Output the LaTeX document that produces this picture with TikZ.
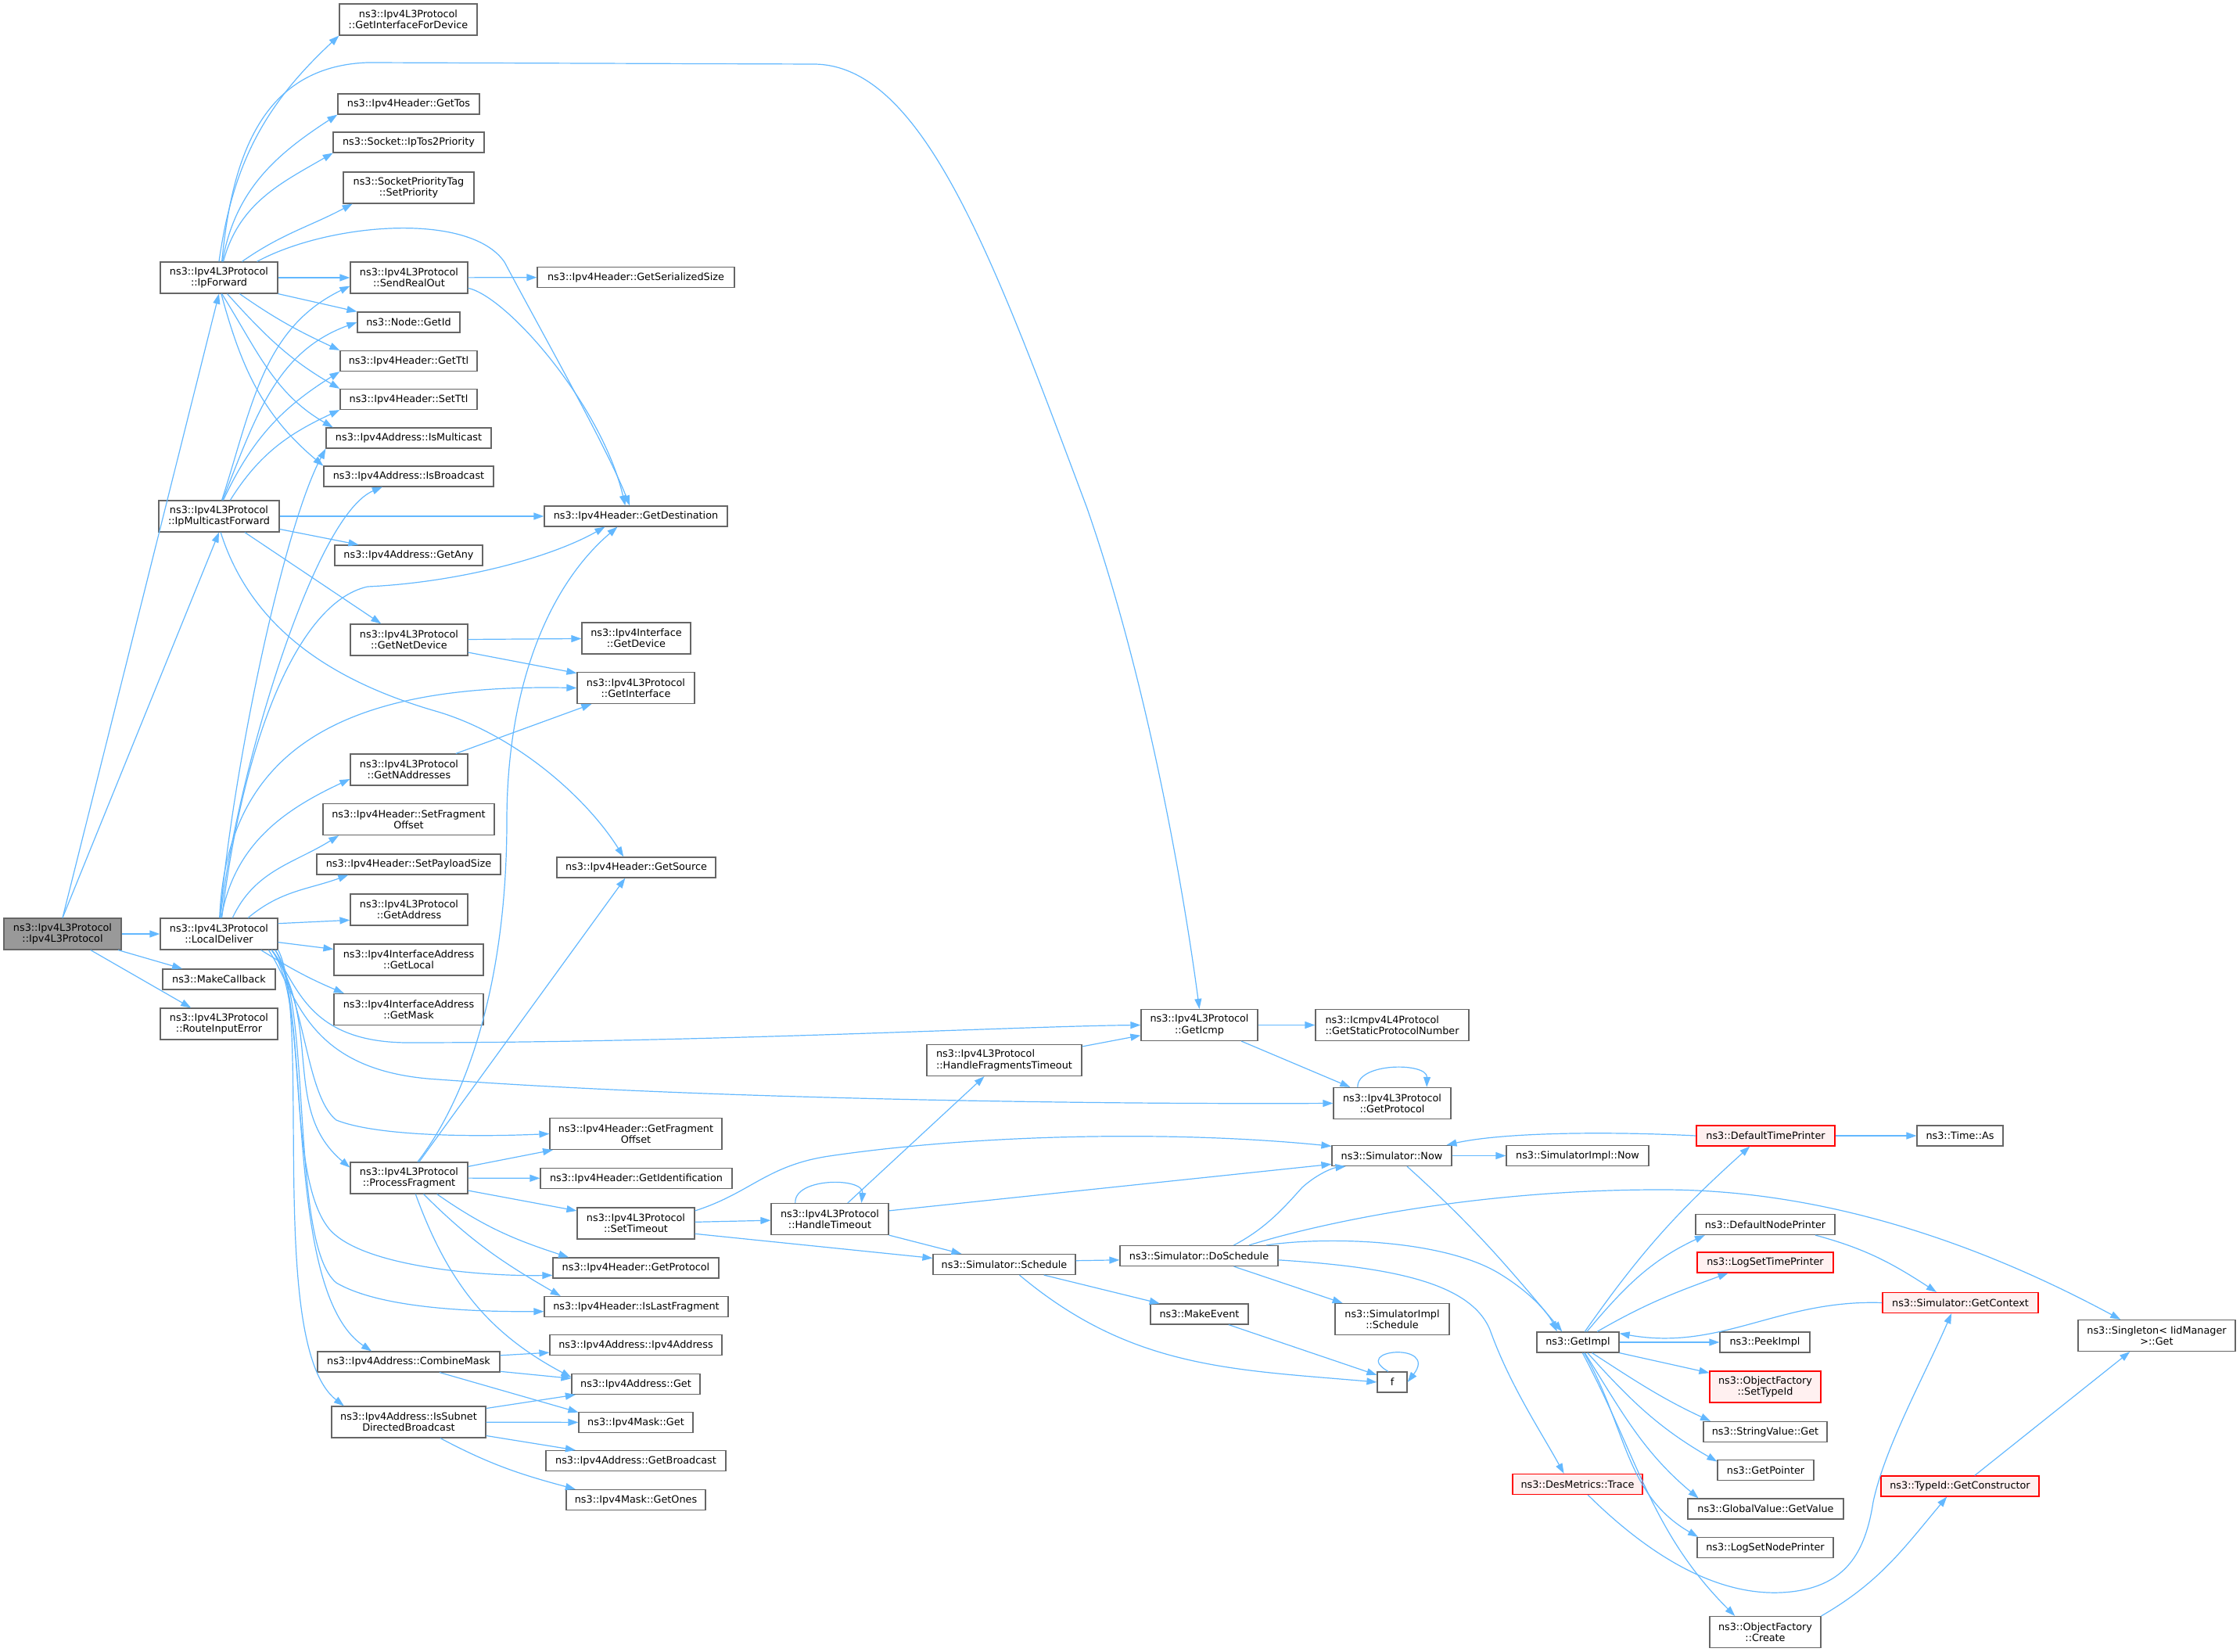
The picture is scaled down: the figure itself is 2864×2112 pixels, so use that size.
\documentclass[tikz,border=0pt]{standalone}
\usepackage{fontspec}
\setmainfont{DejaVu Sans}
\usetikzlibrary{arrows.meta}
\definecolor{edgeblue}{HTML}{63B8FF}
\definecolor{boxgrey}{HTML}{666666}
\definecolor{rootgrey}{HTML}{999999}
\definecolor{redfill}{HTML}{FFF0F0}
\tikzset{fn/.style = {draw = boxgrey, fill = white, line width = 0.6pt, inner sep = 0pt, minimum height = 13pt, align = center, font = \fontsize{6.4}{7.1}\selectfont}}
\tikzset{fnii/.style = {fn, minimum height = 20pt}}
\tikzset{fnred/.style = {draw = red, fill = redfill}}
\tikzset{call/.style = {draw = edgeblue, line width = 0.6pt, -{Triangle[length = 6.5pt, width = 4.5pt]}}}

\begin{document}
\begin{tikzpicture}[x = 0.5pt, y = -0.5pt]
\useasboundingbox (0,0) rectangle (2864,2112);

\node [fnii, fill = rootgrey, minimum width = 75pt] (root) at (80,1194) {ns3::Ipv4L3Protocol\\::Ipv4L3Protocol};
\node [fnii, minimum width = 75pt] (ipFwd) at (280,355) {ns3::Ipv4L3Protocol\\::IpForward};
\node [fnii, minimum width = 77pt] (ipMcast) at (280,660) {ns3::Ipv4L3Protocol\\::IpMulticastForward};
\node [fnii, minimum width = 75pt] (localDel) at (280,1194) {ns3::Ipv4L3Protocol\\::LocalDeliver};
\node [fn, minimum width = 72pt] (mkCb) at (280,1252) {ns3::MakeCallback};
\node [fnii, minimum width = 75pt] (routeErr) at (280,1309) {ns3::Ipv4L3Protocol\\::RouteInputError};

\node [fnii, minimum width = 88pt] (getIfDev) at (522,25) {ns3::Ipv4L3Protocol\\::GetInterfaceForDevice};
\node [fn, minimum width = 90.5pt] (getTos) at (522.5,133) {ns3::Ipv4Header::GetTos};
\node [fn, minimum width = 96.5pt] (tos2Prio) at (522.5,182) {ns3::Socket::IpTos2Priority};
\node [fnii, minimum width = 83.5pt] (setPrio) at (522.5,240) {ns3::SocketPriorityTag\\::SetPriority};
\node [fnii, minimum width = 75pt] (sendOut) at (523,355) {ns3::Ipv4L3Protocol\\::SendRealOut};
\node [fn, minimum width = 65.5pt] (getId) at (522.5,412) {ns3::Node::GetId};
\node [fn, minimum width = 87.5pt] (getTtl) at (522.5,461.5) {ns3::Ipv4Header::GetTtl};
\node [fn, minimum width = 87.5pt] (setTtl) at (522.5,510.5) {ns3::Ipv4Header::SetTtl};
\node [fn, minimum width = 105.5pt] (isMcast) at (522.5,560) {ns3::Ipv4Address::IsMulticast};
\node [fn, minimum width = 108.5pt] (isBcast) at (522.5,609) {ns3::Ipv4Address::IsBroadcast};
\node [fn, minimum width = 94.5pt] (getAny) at (522.5,710) {ns3::Ipv4Address::GetAny};
\node [fnii, minimum width = 75pt] (getNetDev) at (523,818) {ns3::Ipv4L3Protocol\\::GetNetDevice};
\node [fnii, minimum width = 75pt] (getNAddr) at (523,984) {ns3::Ipv4L3Protocol\\::GetNAddresses};
\node [fnii, minimum width = 109.5pt] (setFragOff) at (522.5,1047.5) {ns3::Ipv4Header::SetFragment\\Offset};
\node [fn, minimum width = 117.5pt] (setPay) at (522.5,1105) {ns3::Ipv4Header::SetPayloadSize};
\node [fnii, minimum width = 75pt] (getAddr) at (523,1163) {ns3::Ipv4L3Protocol\\::GetAddress};
\node [fnii, minimum width = 95.5pt] (getLocal) at (522.5,1227) {ns3::Ipv4InterfaceAddress\\::GetLocal};
\node [fnii, minimum width = 95.5pt] (getMask) at (522.5,1290.5) {ns3::Ipv4InterfaceAddress\\::GetMask};
\node [fnii, minimum width = 75pt] (procFrag) at (523,1506) {ns3::Ipv4L3Protocol\\::ProcessFragment};
\node [fn, minimum width = 116.5pt] (combMask) at (522.5,1741) {ns3::Ipv4Address::CombineMask};
\node [fnii, minimum width = 98.5pt] (isSubnet) at (522.5,1818) {ns3::Ipv4Address::IsSubnet\\DirectedBroadcast};

\node [fn, minimum width = 126pt] (serSize) at (813,354.5) {ns3::Ipv4Header::GetSerializedSize};
\node [fn, minimum width = 117pt] (getDest) at (813,660) {ns3::Ipv4Header::GetDestination};
\node [fnii, minimum width = 69.5pt] (getDev) at (813.5,816) {ns3::Ipv4Interface\\::GetDevice};
\node [fnii, minimum width = 75pt] (getIf) at (813,879.5) {ns3::Ipv4L3Protocol\\::GetInterface};
\node [fn, minimum width = 101.5pt] (getSrc) at (813.5,1109) {ns3::Ipv4Header::GetSource};
\node [fnii, minimum width = 110pt] (getFragOff) at (813,1449.5) {ns3::Ipv4Header::GetFragment\\Offset};
\node [fn, minimum width = 122.5pt] (getIdent) at (813.5,1506.5) {ns3::Ipv4Header::GetIdentification};
\node [fnii, minimum width = 75pt] (setTo) at (813,1564) {ns3::Ipv4L3Protocol\\::SetTimeout};
\node [fn, minimum width = 106pt] (getProtoH) at (813,1621) {ns3::Ipv4Header::GetProtocol};
\node [fn, minimum width = 117.5pt] (isLast) at (813.5,1670.5) {ns3::Ipv4Header::IsLastFragment};
\node [fn, minimum width = 110pt] (addrCtor) at (813,1719.5) {ns3::Ipv4Address::Ipv4Address};
\node [fn, minimum width = 82pt] (addrGet) at (813,1769.5) {ns3::Ipv4Address::Get};
\node [fn, minimum width = 73pt] (maskGet) at (813,1818.5) {ns3::Ipv4Mask::Get};
\node [fn, minimum width = 115pt] (getBcast) at (813,1867.5) {ns3::Ipv4Address::GetBroadcast};
\node [fn, minimum width = 89pt] (getOnes) at (813,1917.5) {ns3::Ipv4Mask::GetOnes};

\node [fnii, minimum width = 75pt] (handleTo) at (1061,1558.5) {ns3::Ipv4L3Protocol\\::HandleTimeout};
\node [fnii, align = left, minimum width = 99pt] (handleFragTo) at (1284,1355.5) {ns3::Ipv4L3Protocol\\::HandleFragmentsTimeout};
\node [fn, minimum width = 91pt] (simSched) at (1284,1616.5) {ns3::Simulator::Schedule};
\node [fnii, minimum width = 74.5pt] (getIcmp) at (1533.5,1310.5) {ns3::Ipv4L3Protocol\\::GetIcmp};
\node [fn, minimum width = 101pt] (doSched) at (1533,1605.5) {ns3::Simulator::DoSchedule};
\node [fn, minimum width = 62.5pt] (mkEvent) at (1533.5,1680) {ns3::MakeEvent};

\node [fnii, align = left, minimum width = 98pt] (staticProto) at (1780,1310.5) {ns3::Icmpv4L4Protocol\\::GetStaticProtocolNumber};
\node [fnii, minimum width = 75pt] (getProto) at (1780,1410.5) {ns3::Ipv4L3Protocol\\::GetProtocol};
\node [fn, minimum width = 76.5pt] (simNow) at (1779.5,1477.5) {ns3::Simulator::Now};
\node [fnii, minimum width = 73pt] (implSched) at (1780,1686.5) {ns3::SimulatorImpl\\::Schedule};
\node [fn, minimum width = 19pt] (fFn) at (1780,1767) {f};

\node [fn, minimum width = 91pt] (implNow) at (2017,1477.5) {ns3::SimulatorImpl::Now};
\node [fn, minimum width = 52.5pt] (getImpl) at (2017.5,1716) {ns3::GetImpl};
\node [fn, fnred, minimum width = 83pt] (desTrace) at (2017,1897.5) {ns3::DesMetrics::Trace};

\node [fn, fnred, minimum width = 88.5pt] (defTime) at (2257.5,1452) {ns3::DefaultTimePrinter};
\node [fn, minimum width = 89pt] (defNode) at (2257,1565.5) {ns3::DefaultNodePrinter};
\node [fn, fnred, minimum width = 87pt] (logTime) at (2257,1614) {ns3::LogSetTimePrinter};
\node [fn, minimum width = 57.5pt] (peekImpl) at (2256.5,1716) {ns3::PeekImpl};
\node [fnii, fnred, minimum width = 71pt] (ofSetType) at (2257,1773) {ns3::ObjectFactory\\::SetTypeId};
\node [fn, minimum width = 79pt] (strGet) at (2257,1830.5) {ns3::StringValue::Get};
\node [fn, minimum width = 61.5pt] (getPtr) at (2257.5,1879.5) {ns3::GetPointer};
\node [fn, minimum width = 99.5pt] (gvGet) at (2257.5,1929) {ns3::GlobalValue::GetValue};
\node [fn, minimum width = 87pt] (logNode) at (2257,1978.5) {ns3::LogSetNodePrinter};
\node [fnii, minimum width = 71pt] (ofCreate) at (2257,2086.5) {ns3::ObjectFactory\\::Create};

\node [fn, minimum width = 55pt] (timeAs) at (2506,1452) {ns3::Time::As};
\node [fn, fnred, minimum width = 99.5pt] (getCtx) at (2506.5,1665.5) {ns3::Simulator::GetContext};
\node [fn, fnred, minimum width = 101pt] (getCtor) at (2506,1900) {ns3::TypeId::GetConstructor};
\node [fnii, minimum width = 100.5pt] (singleton) at (2757.5,1707.5) {ns3::Singleton< IidManager\\>::Get};

\draw [call] (root.north) -- (ipFwd.south);
\draw [call] (root.north) -- (ipMcast.south);
\draw [call] (root) -- (localDel);
\draw [call] (root) -- (mkCb);
\draw [call] (root) -- (routeErr);

\draw [call] (ipFwd.north) to [out = 82, in = 223] (getIfDev.south west);
\draw [call] (ipFwd.80) .. controls (296,210) and (330,85) .. (470,80) -- (1040,82) .. controls (1180,82) and (1270,330) .. (1390,650) .. controls (1470,880) and (1515,1150) .. (getIcmp.north);
\draw [call] (ipFwd.78) to [out = 80, in = 213] (getTos.south west);
\draw [call] (ipFwd.75) to [out = 75, in = 210] (tos2Prio.188);
\draw [call] (ipFwd.35) to [out = 35, in = 208] (setPrio.196);
\draw [call] (ipFwd.23) .. controls (420,285) and (600,270) .. (645,335) .. controls (690,420) and (775,570) .. (getDest.120);
\draw [call] (ipFwd) -- (sendOut);
\draw [call] (ipFwd.south east) -- (getId.north west);
\draw [call] (ipFwd.-38) to [out = -35, in = 155] (getTtl.north west);
\draw [call] (ipFwd.-63) to [out = -48, in = 150] (setTtl.north west);
\draw [call] (ipFwd.-80) to [out = -58, in = 150] (isMcast.172);
\draw [call] (ipFwd.-82) to [out = -75, in = 140] (isBcast.173);

\draw [call] (ipMcast.80) to [out = 72, in = 206] (sendOut.188);
\draw [call] (ipMcast.78) to [out = 68, in = 200] (getId.west);
\draw [call] (ipMcast.75) to [out = 65, in = 212] (getTtl.south west);
\draw [call] (ipMcast.55) to [out = 58, in = 205] (setTtl.south west);
\draw [call] (ipMcast) -- (getDest);
\draw [call] (ipMcast.-12) -- (getAny.168);
\draw [call] (ipMcast.-32) -- (getNetDev.150);
\draw [call] (ipMcast.-84) .. controls (320,800) and (420,870) .. (560,910) .. controls (660,940) and (750,1020) .. (getSrc.140);

\draw [call] (localDel.86) .. controls (295,1000) and (360,680) .. (isMcast.south west);
\draw [call] (localDel.85) .. controls (300,1000) and (400,660) .. (isBcast.202);
\draw [call] (localDel.80) .. controls (310,950) and (380,770) .. (470,750) .. controls (580,745) and (700,715) .. (getDest.199);
\draw [call] (localDel.88) .. controls (290,950) and (450,874) .. (getIf.west);
\draw [call] (localDel.82) to [out = 80, in = 205] (getNAddr.189);
\draw [call] (localDel.50) to [out = 65, in = 212] (setFragOff.193);
\draw [call] (localDel.29) to [out = 40, in = 200] (setPay.190);
\draw [call] (localDel.10) -- (getAddr.190);
\draw [call] (localDel.-8) -- (getLocal.172);
\draw [call] (localDel.-21) to [out = -32, in = 157] (getMask.166);
\draw [call] (localDel.-17) .. controls (380,1255) and (390,1332) .. (520,1333) .. controls (900,1333) and (1300,1312) .. (getIcmp.west);
\draw [call] (localDel.-18) .. controls (380,1270) and (390,1370) .. (560,1380) .. controls (900,1405) and (1400,1412) .. (getProto.west);
\draw [call] (localDel.-17) .. controls (390,1270) and (390,1400) .. (430,1432) .. controls (480,1452) and (600,1454) .. (getFragOff.west);
\draw [call] (localDel.-17) to [out = -55, in = 140] (procFrag.170);
\draw [call] (localDel.-17) .. controls (395,1280) and (365,1500) .. (420,1570) .. controls (460,1620) and (620,1632) .. (getProtoH.185);
\draw [call] (localDel.-16) .. controls (400,1280) and (370,1590) .. (430,1640) .. controls (490,1675) and (620,1677) .. (isLast.183);
\draw [call] (localDel.-16) .. controls (400,1290) and (360,1650) .. (combMask.164);
\draw [call] (localDel.-15) .. controls (400,1300) and (340,1720) .. (isSubnet.166);

\draw [call] (sendOut) -- (serSize);
\draw [call] (sendOut.-10) .. controls (650,380) and (770,520) .. (getDest.135);
\draw [call] (getNetDev) -- (getDev);
\draw [call] (getNetDev.-12) -- (getIf.166);
\draw [call] (getNAddr.19) -- (getIf.200);

\draw [call] (procFrag.62) .. controls (600,1400) and (648,1250) .. (648,1050) .. controls (648,880) and (700,750) .. (getDest.210);
\draw [call] (procFrag.58) -- (getSrc.224);
\draw [call] (procFrag.11) -- (getFragOff.191);
\draw [call] (procFrag) -- (getIdent);
\draw [call] (procFrag.-12) -- (setTo.168);
\draw [call] (procFrag.-30) to [out = -35, in = 162] (getProtoH.171);
\draw [call] (procFrag.-48) to [out = -45, in = 150] (isLast.172);
\draw [call] (procFrag.-68) to [out = -70, in = 152] (addrGet.174);

\draw [call] (combMask.4) -- (addrCtor.185);
\draw [call] (combMask.-6) -- (addrGet.175);
\draw [call] (combMask.-19) -- (maskGet.170);
\draw [call] (isSubnet.10) -- (addrGet.190);
\draw [call] (isSubnet) -- (maskGet);
\draw [call] (isSubnet.-10) -- (getBcast.170);
\draw [call] (isSubnet.-27) to [out = -28, in = 165] (getOnes.170);

\draw [call] (setTo.12) .. controls (960,1525) and (980,1490) .. (1060,1478) .. controls (1250,1450) and (1500,1445) .. (simNow.171);
\draw [call] (setTo) -- (handleTo);
\draw [call] (setTo.-10) -- (simSched.175);

\draw [call] (handleTo.42) -- (handleFragTo.219);
\draw [call] (handleTo.155) .. controls (1015,1505) and (1105,1505) .. (handleTo.27);
\draw [call] (handleTo.8) -- (simNow.188);
\draw [call] (handleTo.south east) -- (simSched.166);
\draw [call] (handleFragTo.10) -- (getIcmp.190);

\draw [call] (getIcmp) -- (staticProto);
\draw [call] (getIcmp.-21) -- (getProto.159);
\draw [call] (getProto.155) .. controls (1735,1358) and (1825,1358) .. (getProto.25);

\draw [call] (simNow) -- (implNow);
\draw [call] (simNow.-35) to [out = -42, in = 130] (getImpl.146);
\draw [call] (defTime.west) .. controls (2050,1446) and (1920,1448) .. (simNow.11);
\draw [call] (defTime) -- (timeAs);

\draw [call] (simSched.3) -- (doSched.183);
\draw [call] (simSched.-15) -- (mkEvent.165);
\draw [call] (simSched.-35) to [out = -40, in = 175] (fFn.west);

\draw [call] (doSched.17) .. controls (1620,1570) and (1645,1540) .. (1665,1518) .. controls (1685,1500) and (1705,1493) .. (simNow.193);
\draw [call] (doSched.12) .. controls (1700,1560) and (1900,1520) .. (2130,1521) .. controls (2350,1522) and (2550,1600) .. (singleton.156);
\draw [call] (doSched.9) .. controls (1700,1580) and (1850,1585) .. (1920,1630) .. controls (1960,1655) and (1980,1680) .. (getImpl.153);
\draw [call] (doSched.-17) -- (implSched.162);
\draw [call] (doSched.-3) .. controls (1780,1620) and (1880,1640) .. (1905,1700) .. controls (1930,1770) and (1970,1830) .. (desTrace.142);

\draw [call] (mkEvent.-20) -- (fFn.155);
\draw [call] (fFn.110) .. controls (1725,1725) and (1840,1715) .. (fFn.east);

\draw [call] (getImpl.57) to [out = 55, in = 222] (defTime.214);
\draw [call] (getImpl.50) to [out = 50, in = 205] (defNode.190);
\draw [call] (getImpl.29) to [out = 30, in = 200] (logTime.196);
\draw [call] (getImpl) -- (peekImpl);
\draw [call] (getImpl.south east) -- (ofSetType.166);
\draw [call] (getImpl.-37) to [out = -33, in = 155] (strGet.169);
\draw [call] (getImpl.-48) to [out = -48, in = 150] (getPtr.170);
\draw [call] (getImpl.-57) to [out = -58, in = 140] (gvGet.171);
\draw [call] (getImpl.-60) to [out = -60, in = 150] (logNode.171);
\draw [call] (getImpl.-67) to [out = -62, in = 135] (ofCreate.152);

\draw [call] (defNode.-12) to [out = -15, in = 147] (getCtx.156);
\draw [call] (getCtx.west) to [out = 178, in = 350] (getImpl.12);
\draw [call] (desTrace.-46) .. controls (2110,1990) and (2200,2045) .. (2290,2035) .. controls (2360,2027) and (2385,1985) .. (2395,1920) .. controls (2410,1850) and (2460,1760) .. (getCtx.230);
\draw [call] (ofCreate.16) to [out = 30, in = 230] (getCtor.219);
\draw [call] (getCtor.36) -- (singleton.211);
\end{tikzpicture}
\end{document}
